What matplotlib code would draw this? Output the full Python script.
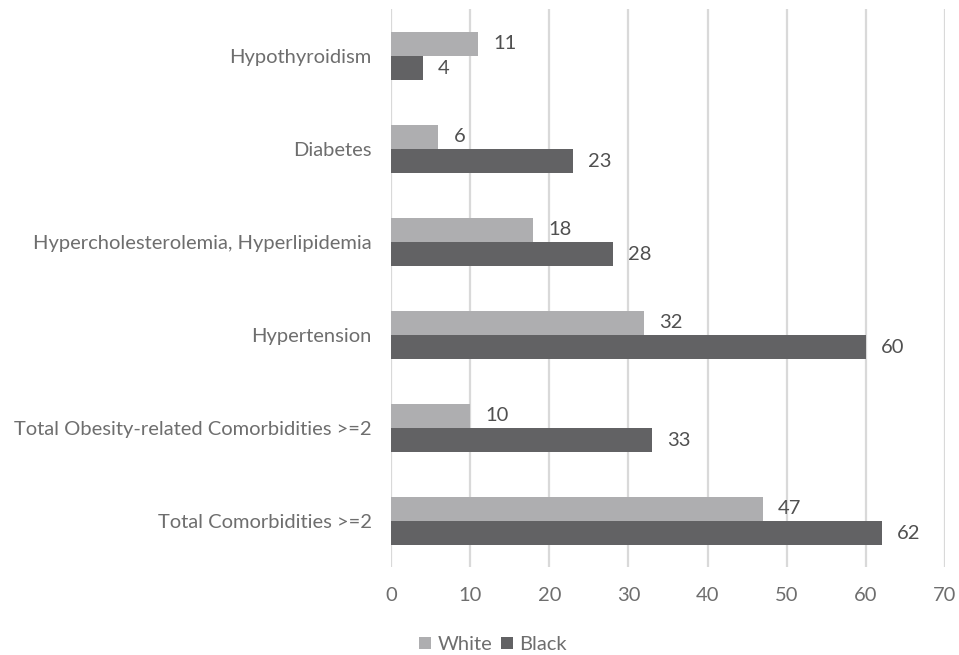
import numpy as np
import matplotlib.pyplot as plt

plt.rcParams['font.family'] = ['Lato', 'DejaVu Sans']

# Comorbidities listed bottom to top
categories = [
    'Total Comorbidities >=2',
    'Total Obesity-related Comorbidities >=2',
    'Hypertension',
    'Hypercholesterolemia, Hyperlipidemia',
    'Diabetes',
    'Hypothyroidism',
]
white = [47, 10, 32, 18, 6, 11]
black = [62, 33, 60, 28, 23, 4]

label_color = '#6E6E6E'
value_color = '#505050'
white_color = '#AEAEB0'
black_color = '#626264'

fig = plt.figure(figsize=(9.59, 6.55), dpi=100)
ax = fig.add_axes([0.4077, 0.1336, 0.5777, 0.852])

y = np.arange(len(categories))
h = 0.26
off = 0.13
bw = ax.barh(y + off, white, height=h, color=white_color, label='White', zorder=3)
bb = ax.barh(y - off, black, height=h, color=black_color, label='Black', zorder=3)

for bars, vals in ((bw, white), (bb, black)):
    for bar, v in zip(bars, vals):
        ax.annotate(str(v), (bar.get_width(), bar.get_y() + bar.get_height() / 2),
                    xytext=(11, 0), textcoords='offset points',
                    ha='left', va='center', fontsize=14.5, color=value_color)

ax.set_xlim(0, 70)
ax.set_ylim(-0.5, len(categories) - 0.5)
ax.set_xticks(range(0, 71, 10))
ax.set_yticks(y)
ax.set_yticklabels(categories)
ax.tick_params(axis='both', length=0, labelsize=14.5, labelcolor=label_color)
ax.tick_params(axis='x', pad=14)
ax.tick_params(axis='y', pad=14)
ax.grid(axis='x', color='#D9D9D9', linewidth=1.6, zorder=0)
for s in ax.spines.values():
    s.set_visible(False)

fig.legend(handles=[bw, bb], loc='center', bbox_to_anchor=(0.514, 0.016),
           ncol=2, frameon=False, fontsize=14.5, labelcolor=label_color,
           handlelength=0.6, handleheight=0.6, handletextpad=0.3, columnspacing=0.45)

fig.savefig('out.png', dpi=100)
